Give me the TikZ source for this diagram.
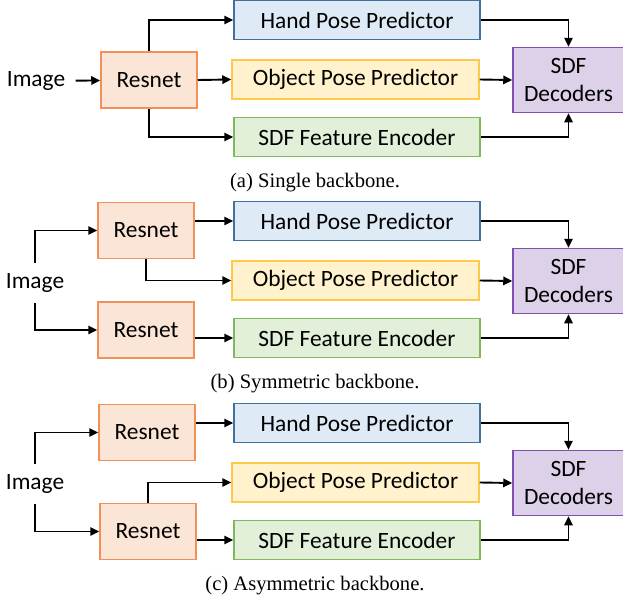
\documentclass[tikz,border=0pt]{standalone}
\usepackage{fontspec}
\setmainfont{Carlito}
\newfontfamily\capfont{Liberation Serif}
\usepackage{tikz}
\usetikzlibrary{arrows.meta}
\definecolor{resdraw}{HTML}{F0915A}
\definecolor{resfill}{HTML}{FBE5D6}
\definecolor{handdraw}{HTML}{41719C}
\definecolor{handfill}{HTML}{DEEBF7}
\definecolor{objdraw}{HTML}{FFC94A}
\definecolor{objfill}{HTML}{FFF2CC}
\definecolor{encdraw}{HTML}{7FB95A}
\definecolor{encfill}{HTML}{E2F0D9}
\definecolor{decdraw}{HTML}{7F4FB5}
\definecolor{decfill}{HTML}{DCD1E9}

\begin{document}
\begin{tikzpicture}[x=0.5pt,y=-0.5pt,
box/.style n args={4}{draw=#1,fill=#2,line width=0.75pt,minimum width=#3*0.5pt,minimum height=#4*0.5pt,inner sep=0pt,rectangle,font=\fontsize{11.7}{14}\selectfont},
res/.style={box={resdraw}{resfill}{96}{56}},
hand/.style={box={handdraw}{handfill}{246}{39}},
obj/.style={box={objdraw}{objfill}{247}{39}},
enc/.style={box={encdraw}{encfill}{246}{39}},
dec/.style={box={decdraw}{decfill}{111}{65},align=center},
img/.style={inner sep=5pt,font=\fontsize{11.7}{14}\selectfont},
captext/.style={font=\capfont\fontsize{10.3}{12}\selectfont},
arr/.style={-{Triangle[length=4.5pt,width=4.2pt]},line width=0.95pt}]
\useasboundingbox (0,0) rectangle (623,600);
\foreach \p/\dy/\t in %
{a/0/Single,b/201/Symmetric,c/403/Asymmetric} {
   \node[hand] (hand\p) at (357,20+\dy) {Hand Pose Predictor};
   \node[obj] (obj\p) at (355.5,79.5+\dy) {Object Pose Predictor};
   \node[enc] (enc\p) at (357,137+\dy) {SDF Feature Encoder};
   \node[dec] (dec\p) at (568.5,80+\dy) {SDF\\Decoders};
   \draw[arr] (hand\p.east) -| (dec\p.north);
   \draw[arr] (obj\p.east) -- (dec\p.west);
   \draw[arr] (enc\p.east) -| (dec\p.south);
   \node[captext] (cap\p) at (315,183+\dy) {(\p) \t\ backbone.};
}
% single backbone
\node[img] (imga) at (36,81) {Image};
\node[res] (resa) at (149,80) {Resnet};
\draw[arr] (imga) -- (resa);
\draw[arr] (resa.north) |- (handa.west);
\draw[arr] (resa.east) -- (obja.west);
\draw[arr] (resa.south) |- (enca.west);
% symmetric backbone
\node[img] (imgb) at (35,283) {Image};
\node[res] (resb1) at (146,230.5) {Resnet};
\node[res] (resb2) at (146,330) {Resnet};
\draw[arr] (imgb.north) |- (resb1.west);
\draw[arr] (imgb.south) |- (resb2.west);
\draw[arr] (resb1.east |- handb.west) -- (handb.west);
\draw[arr] (resb1.south) |- (objb.west);
\draw[arr] (resb2.east |- encb.west) -- (encb.west);
% asymmetric backbone
\node[img] (imgc) at (35,484) {Image};
\node[res] (resc1) at (147,432.5) {Resnet};
\node[res] (resc2) at (148,531.5) {Resnet};
\draw[arr] (imgc.north) |- (resc1.west);
\draw[arr] (imgc.south) |- (resc2.west);
\draw[arr] (resc1.east |- handc.west) -- (handc.west);
\draw[arr] (resc2.north) |- (objc.west);
\draw[arr] (resc2.east |- encc.west) -- (encc.west);
\end{tikzpicture}
\end{document}
